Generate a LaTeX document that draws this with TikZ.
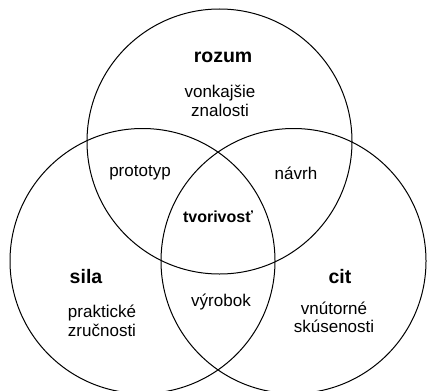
\documentclass[tikz,border=0pt]{standalone}
\usepackage{fontspec}
\setmainfont{Liberation Sans}
\begin{document}
\begin{tikzpicture}[x=1pt,y=-1pt,
  set/.style={circle,draw=black,line width=1pt,minimum size=265pt,inner sep=0pt},
  title/.style={font=\fontsize{19.5}{20}\selectfont\bfseries,inner sep=0pt},
  core/.style={font=\fontsize{16}{18}\selectfont\bfseries,inner sep=0pt},
  lab/.style={font=\fontsize{17}{18.5}\selectfont,align=center,inner sep=0pt}]
\useasboundingbox (0,0) rectangle (427,390);
\clip (0,0) rectangle (427,390);
\node[set] (rozumC) at (219.5,141.5) {};
\node[set] (silaC) at (142.5,261) {};
\node[set] (citC) at (293.5,261) {};
\node[title] (rozum) at (223,57) {rozum};
\node[lab] (vonk) at (220,101) {vonkajšie\\znalosti};
\node[lab] (proto) at (140,173) {prototyp};
\node[lab] (navrh) at (296,173) {návrh};
\node[core] (tvor) at (218,217) {tvorivosť};
\node[title] (sila) at (86,277) {sila};
\node[lab] (prak) at (102,321) {praktické\\zručnosti};
\node[lab] (vyrob) at (221,302) {výrobok};
\node[title] (cit) at (340,277) {cit};
\node[lab] (vnut) at (334,317.5) {vnútorné\\skúsenosti};
\end{tikzpicture}
\end{document}
